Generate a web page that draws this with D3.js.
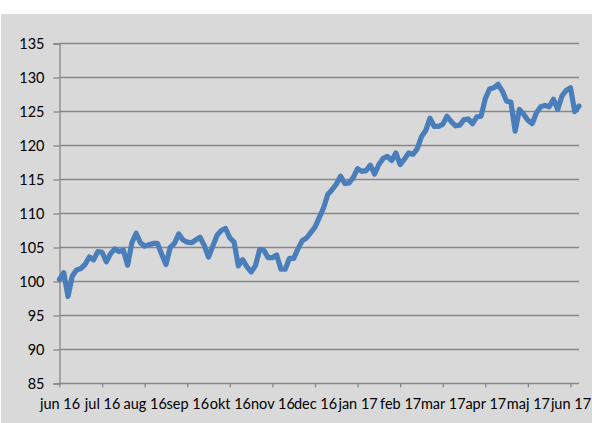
<!DOCTYPE html>
<html>
<head>
<meta charset="utf-8">
<script src="https://cdn.jsdelivr.net/npm/d3@7"></script>
<style>
  body { margin: 0; background: #fff; }
  text { font-family: Lato, "Liberation Sans", sans-serif; }
</style>
</head>
<body>
<div id="chart"></div>
<script>
// index values, ~10 points per month
const values = [
  100.3, 101.3, 97.8, 100.8, 101.7, 101.9, 102.5, 103.6, 103.2, 104.4,
  104.3, 102.9, 104.1, 104.8, 104.4, 104.6, 102.4, 105.7, 107.1, 105.7,
  105.2, 105.4, 105.6, 105.6, 104.0, 102.5, 105.0, 105.6, 107.0, 106.1,
  105.8, 105.7, 106.1, 106.5, 105.3, 103.6, 105.2, 106.8, 107.5, 107.8,
  106.4, 105.8, 102.3, 103.2, 102.2, 101.4, 102.3, 104.7, 104.6, 103.5,
  103.5, 103.9, 101.8, 101.8, 103.4, 103.4, 104.8, 106.0, 106.4, 107.2,
  108.0, 109.4, 110.8, 112.8, 113.5, 114.3, 115.5, 114.4, 114.5, 115.3,
  116.6, 116.2, 116.3, 117.1, 115.8, 117.2, 118.1, 118.4, 117.8, 118.9,
  117.2, 118.0, 118.9, 118.7, 119.5, 121.3, 122.2, 124.0, 122.8, 122.8,
  123.1, 124.3, 123.5, 122.9, 123.0, 123.8, 123.9, 123.2, 124.2, 124.3,
  126.9, 128.3, 128.5, 129.0, 128.0, 126.5, 126.4, 122.1, 125.3, 124.6,
  123.7, 123.2, 124.8, 125.7, 125.9, 125.7, 126.8, 125.3, 127.3, 128.1,
  128.5, 125.0, 125.8
];
const monthLabels = ['jun 16', 'jul 16', 'aug 16', 'sep 16', 'okt 16', 'nov 16', 'dec 16',
  'jan 17', 'feb 17', 'mar 17', 'apr 17', 'maj 17', 'jun 17'];
const monthIdx = [0, 10, 20, 30, 40, 50, 60, 70, 80, 90, 100, 110, 120];
const yTicks = [85, 90, 95, 100, 105, 110, 115, 120, 125, 130, 135];

const W = 592, H = 423;
const plot = { left: 59.5, right: 579, top: 43.5, bottom: 383.5 };
const gridColor = '#878787';
const fontSize = '14.5px';

const svg = d3.select('#chart').append('svg')
  .attr('width', W)
  .attr('height', H);

svg.append('rect')
  .attr('x', 1).attr('y', 14)
  .attr('width', W - 1).attr('height', H - 14)
  .attr('fill', '#d9d9d9');

const x = d3.scaleLinear().domain([0, values.length - 1]).range([plot.left, plot.right]);
const y = d3.scaleLinear().domain([85, 135]).range([plot.bottom, plot.top]);

// gridlines
svg.append('g')
  .selectAll('line')
  .data(yTicks.slice(1))
  .enter()
  .append('line')
  .attr('x1', plot.left).attr('x2', plot.right)
  .attr('y1', d => y(d)).attr('y2', d => y(d))
  .attr('stroke', gridColor)
  .attr('stroke-width', 1.3);

// y axis
const yAxis = svg.append('g')
  .attr('transform', `translate(${plot.left},0)`)
  .call(d3.axisLeft(y).tickValues(yTicks).tickSize(6).tickPadding(9));

// x axis
const xAxis = svg.append('g')
  .attr('transform', `translate(0,${plot.bottom})`)
  .call(d3.axisBottom(x).tickValues(monthIdx)
    .tickFormat((d, i) => monthLabels[i]).tickSizeInner(4).tickSizeOuter(0).tickPadding(11));

[yAxis, xAxis].forEach(g => {
  g.selectAll('path').attr('stroke', gridColor).attr('stroke-width', 1.3);
  g.selectAll('line').attr('stroke', gridColor).attr('stroke-width', 1.3);
  g.selectAll('text')
    .attr('fill', '#000')
    .style('font-size', fontSize)
    .style('font-family', 'Lato, "Liberation Sans", sans-serif');
});
// x-axis path runs to the full plot width
xAxis.select('path').attr('d', `M${plot.left},0H${plot.right}`);

svg.append('path')
  .datum(values)
  .attr('fill', 'none')
  .attr('stroke', '#4a7ebb')
  .attr('stroke-width', 5.2)
  .attr('stroke-linejoin', 'round')
  .attr('stroke-linecap', 'round')
  .attr('d', d3.line().x((d, i) => x(i)).y(d => y(d)));
</script>
</body>
</html>
